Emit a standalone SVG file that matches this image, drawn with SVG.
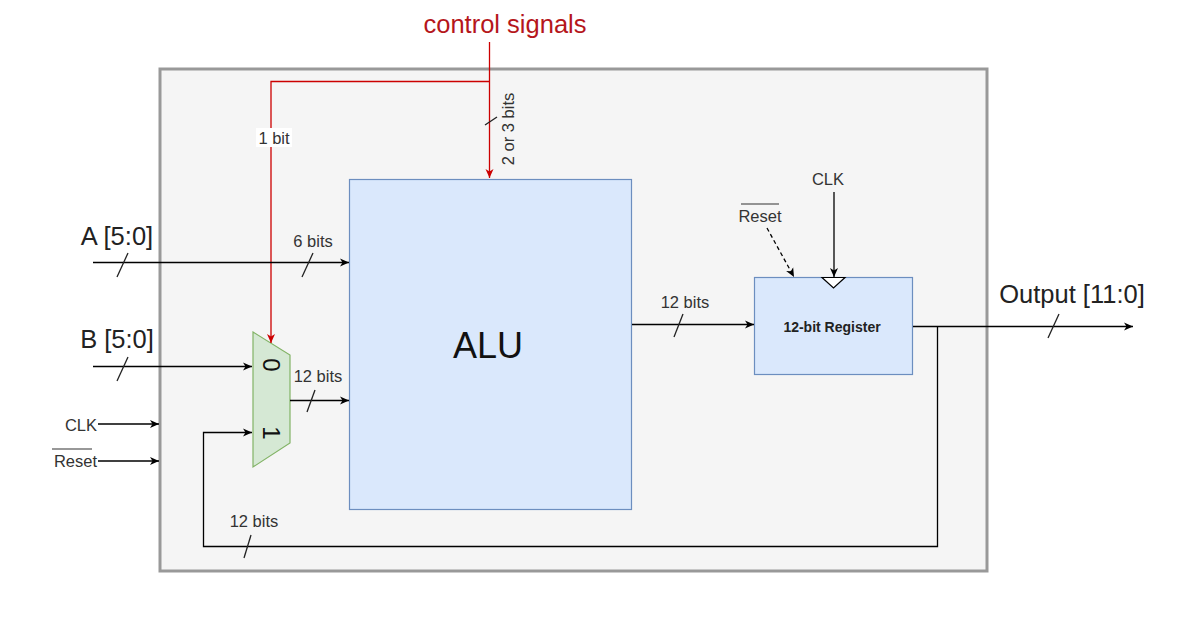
<svg xmlns="http://www.w3.org/2000/svg" width="1195" height="631" viewBox="0 0 1195 631">
<defs>
<style>
.w{stroke:#000;stroke-width:1.3;fill:none}
.r{stroke:#cc0000;stroke-width:1.3;fill:none}
.t{font-family:"Liberation Sans",Arial,sans-serif;fill:#333;font-size:16.5px}
.big{font-family:"Liberation Sans",Arial,sans-serif;fill:#222;font-size:25.5px}
.dig{font-family:"Liberation Sans",Arial,sans-serif;fill:#111;font-size:24px}
.tick{stroke:#222;stroke-width:1.3}
</style>
<marker id="ab" markerUnits="userSpaceOnUse" markerWidth="10" markerHeight="10" refX="9" refY="5" orient="auto">
<path d="M0,1 L9,5 L0,9 L2.5,5 z" fill="#000"/>
</marker>
<marker id="ar" markerUnits="userSpaceOnUse" markerWidth="10" markerHeight="10" refX="9" refY="5" orient="auto">
<path d="M0,1 L9,5 L0,9 L2.5,5 z" fill="#cc0000"/>
</marker>
</defs>
<rect width="1195" height="631" fill="#fff"/>
<g id="container">
<rect x="160" y="69" width="827" height="502" fill="#f5f5f5" stroke="#999" stroke-width="3"/>
</g>
<g id="alu">
<rect x="349.5" y="179.5" width="282" height="330" fill="#dae8fc" stroke="#6c8ebf" stroke-width="1.2"/>
<text x="488" y="358" font-family="Liberation Sans,Arial,sans-serif" font-size="36" fill="#111" text-anchor="middle">ALU</text>
</g>
<g id="mux">
<polygon points="253,332 290,355 290,443 253,467" fill="#d5e8d4" stroke="#82b366" stroke-width="1.2"/>
<text class="dig" transform="translate(271,365) rotate(90)" text-anchor="middle" dy="8.5">0</text>
<text class="dig" transform="translate(271,433) rotate(90)" text-anchor="middle" dy="8.5">1</text>
</g>
<g id="register">
<rect x="754.5" y="277.5" width="158" height="97" fill="#dae8fc" stroke="#6c8ebf" stroke-width="1.2"/>
<text x="832" y="332" font-family="Liberation Sans,Arial,sans-serif" font-size="14" font-weight="bold" fill="#222" text-anchor="middle">12-bit Register</text>
<polygon points="822,277.5 845,277.5 833.5,288" fill="#fff" stroke="#000" stroke-width="1.2"/>
</g>
<g id="labels">
<text class="big" x="505" y="33" text-anchor="middle" style="fill:#b5161b">control signals</text>
<text class="big" x="117" y="245" text-anchor="middle">A [5:0]</text>
<text class="big" x="117" y="348" text-anchor="middle">B [5:0]</text>
<text class="big" x="1072" y="303" text-anchor="middle">Output [11:0]</text>
<text class="t" x="97" y="431" text-anchor="end">CLK</text>
<text class="t" x="97" y="467" text-anchor="end">Reset</text>
<line x1="52" y1="449" x2="92" y2="449" stroke="#333" stroke-width="1.2"/>
<text class="t" x="828" y="185" text-anchor="middle">CLK</text>
<text class="t" x="760" y="222" text-anchor="middle">Reset</text>
<line x1="741" y1="204" x2="779" y2="204" stroke="#333" stroke-width="1.2"/>
</g>
<g id="connectors">
<line class="r" x1="489.5" y1="42" x2="489.5" y2="178" marker-end="url(#ar)"/>
<polyline class="r" points="489.5,81.5 271,81.5 271,343" marker-end="url(#ar)"/>
<rect x="256" y="128" width="36" height="19" fill="#fff"/>
<text class="t" x="274" y="144" text-anchor="middle">1 bit</text>
<line class="tick" x1="485" y1="125" x2="497" y2="117"/>
<text class="t" transform="translate(514,129) rotate(-90)" text-anchor="middle">2 or 3 bits</text>
<line class="w" x1="93" y1="262.5" x2="349" y2="262.5" marker-end="url(#ab)"/>
<line class="tick" x1="117" y1="277" x2="128" y2="253"/>
<line class="tick" x1="302" y1="277" x2="313" y2="253"/>
<text class="t" x="313" y="247" text-anchor="middle">6 bits</text>
<line class="w" x1="93" y1="366.5" x2="252" y2="366.5" marker-end="url(#ab)"/>
<line class="tick" x1="117" y1="381" x2="128" y2="357"/>
<line class="w" x1="290" y1="400.5" x2="349" y2="400.5" marker-end="url(#ab)"/>
<line class="tick" x1="307" y1="412" x2="315" y2="390"/>
<text class="t" x="318" y="382" text-anchor="middle">12 bits</text>
<line class="w" x1="98" y1="424" x2="159" y2="424" marker-end="url(#ab)"/>
<line class="w" x1="98" y1="461" x2="159" y2="461" marker-end="url(#ab)"/>
<line class="w" x1="632" y1="324.5" x2="754" y2="324.5" marker-end="url(#ab)"/>
<line class="tick" x1="674" y1="337" x2="683" y2="314"/>
<text class="t" x="685" y="308" text-anchor="middle">12 bits</text>
<line class="w" x1="834" y1="192" x2="834" y2="277" marker-end="url(#ab)"/>
<line class="w" x1="767" y1="228" x2="794" y2="277" stroke-dasharray="4,3" marker-end="url(#ab)"/>
<line class="w" x1="913" y1="326.5" x2="1133" y2="326.5" marker-end="url(#ab)"/>
<line class="tick" x1="1048" y1="338" x2="1059" y2="314"/>
<polyline class="w" points="937.5,326.5 937.5,546.5 203.5,546.5 203.5,432.5 252,432.5" marker-end="url(#ab)"/>
<line class="tick" x1="244" y1="558" x2="251" y2="535"/>
<text class="t" x="254" y="527" text-anchor="middle">12 bits</text>
</g>
</svg>
